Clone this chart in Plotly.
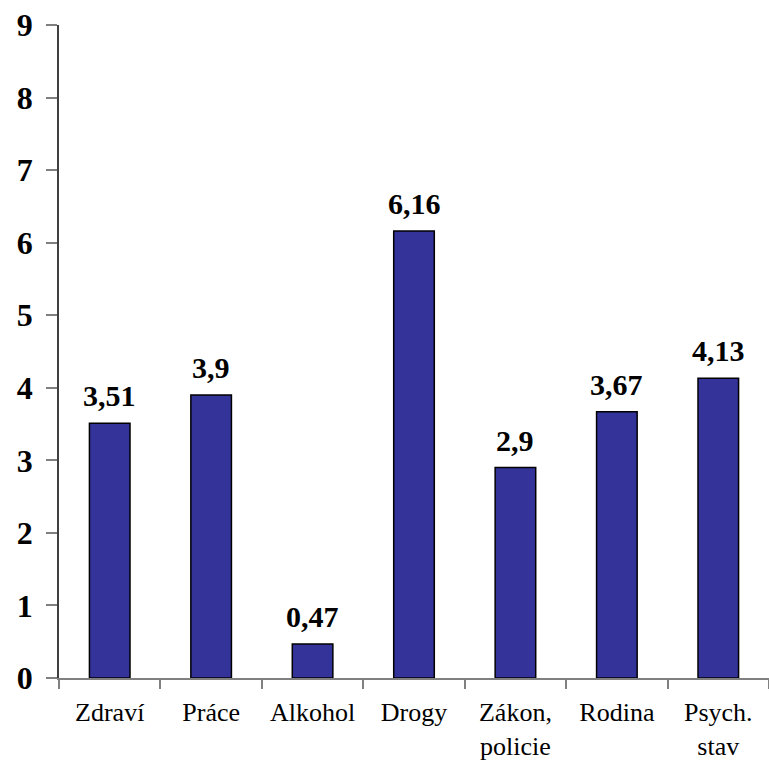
import plotly.graph_objects as go

categories = ["Zdraví", "Práce", "Alkohol", "Drogy", "Zákon,<br>policie", "Rodina", "Psych.<br>stav"]
values = [3.51, 3.9, 0.47, 6.16, 2.9, 3.67, 4.13]
value_labels = ["3,51", "3,9", "0,47", "6,16", "2,9", "3,67", "4,13"]
y_ticks = list(range(0, 10))

FONT = "Liberation Serif"

fig = go.Figure(
    go.Bar(
        x=categories,
        y=values,
        marker=dict(color="#333399", line=dict(color="#000000", width=1.5)),
        width=0.4,
    )
)

# bold value label above each bar
for cat, val, lab in zip(categories, values, value_labels):
    fig.add_annotation(
        x=cat, y=val, text=f"<b>{lab}</b>", showarrow=False,
        yanchor="bottom", yshift=9,
        font=dict(family=FONT, size=30, color="#000000"),
    )

fig.update_layout(
    width=769, height=777,
    margin=dict(l=59, r=0, t=25, b=99),
    paper_bgcolor="white", plot_bgcolor="white",
    showlegend=False,
    font=dict(family=FONT, color="#000000"),
)

fig.update_xaxes(
    type="category",
    showline=True, linecolor="#808080", linewidth=1.5,
    ticks="outside", tickson="boundaries", ticklen=9, tickcolor="#808080", tickwidth=1.5,
    tickfont=dict(family=FONT, size=26, color="#000000"),
    ticklabelstandoff=10,
    showgrid=False, zeroline=False,
)

fig.update_yaxes(
    range=[0, 9],
    tickvals=y_ticks,
    ticktext=[f"<b>{v}</b>" for v in y_ticks],
    showline=True, linecolor="#404040", linewidth=1.5,
    ticks="outside", ticklen=11, tickcolor="#808080", tickwidth=1.5,
    tickfont=dict(family=FONT, size=32, color="#000000"),
    ticklabelstandoff=7,
    showgrid=False, zeroline=False,
)

fig.write_html("out.html")
